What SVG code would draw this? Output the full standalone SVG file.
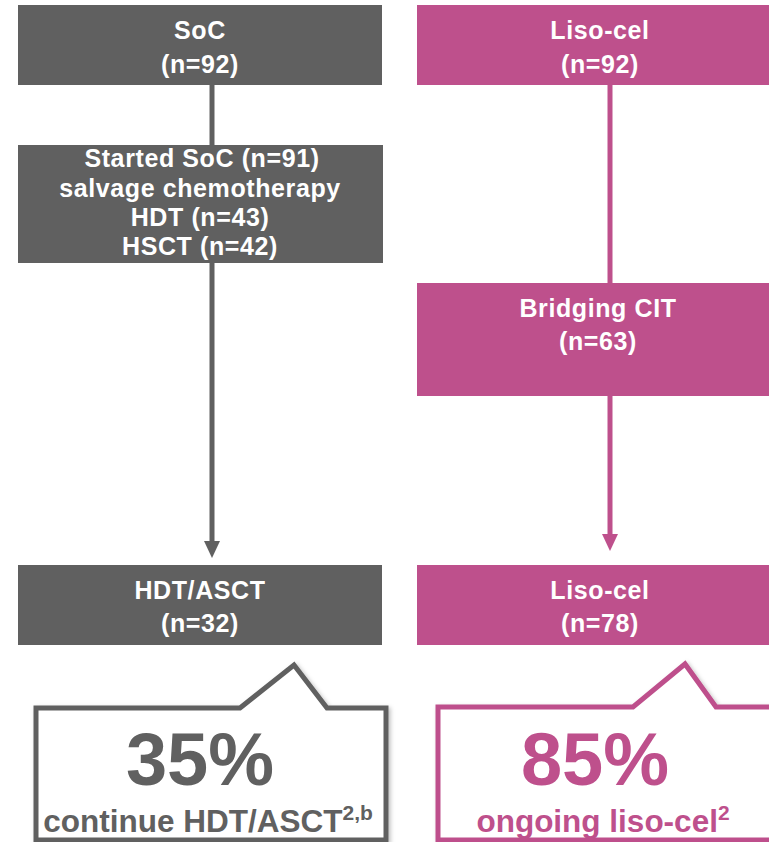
<svg xmlns="http://www.w3.org/2000/svg" width="769" height="842" viewBox="0 0 769 842">
<defs>
<style>
.g{fill:#606060}
.p{fill:#BE508C}
.t{font-family:"Liberation Sans",Arial,sans-serif;font-weight:bold;font-size:25px;letter-spacing:0.6px;fill:#fff;text-anchor:middle}
.big{font-family:"Liberation Sans",Arial,sans-serif;font-weight:bold;font-size:74px;text-anchor:middle}
.sub{font-family:"Liberation Sans",Arial,sans-serif;font-weight:bold;font-size:31.5px;text-anchor:middle}
.lg{stroke:#606060;stroke-width:5;fill:none}
.lp{stroke:#BE508C;stroke-width:5;fill:none}
</style>
<marker id="ag" markerWidth="18" markerHeight="16" refX="0" refY="8" orient="auto" markerUnits="userSpaceOnUse"><path d="M0,0 L17,8 L0,16 Z" fill="#606060"/></marker>
<marker id="ap" markerWidth="18" markerHeight="16" refX="0" refY="8" orient="auto" markerUnits="userSpaceOnUse"><path d="M0,0 L17,8 L0,16 Z" fill="#BE508C"/></marker>
<filter id="sh" x="-10%" y="-10%" width="120%" height="130%"><feDropShadow dx="2" dy="2" stdDeviation="2" flood-color="#000" flood-opacity="0.25"/></filter>
</defs>
<rect width="769" height="842" fill="#fff"/>
<g id="connectors">
<line class="lg" x1="212" y1="85" x2="212" y2="145"/>
<line class="lg" x1="212" y1="263" x2="212" y2="541" marker-end="url(#ag)"/>
<line class="lp" x1="610" y1="85" x2="610" y2="283"/>
<line class="lp" x1="610" y1="396" x2="610" y2="534" marker-end="url(#ap)"/>
</g>
<g id="soc">
<rect class="g" x="18" y="5" width="364" height="80"/>
<text class="t" x="200" y="39">SoC</text>
<text class="t" x="200" y="73">(n=92)</text>
</g>
<g id="liso-top">
<rect class="p" x="417" y="5" width="366" height="80"/>
<text class="t" x="600" y="39">Liso-cel</text>
<text class="t" x="600" y="73">(n=92)</text>
</g>
<g id="started-soc">
<rect class="g" x="18" y="145" width="365" height="118"/>
<text class="t" x="202" y="167">Started SoC (n=91)</text>
<text class="t" x="200" y="197">salvage chemotherapy</text>
<text class="t" x="200" y="226">HDT (n=43)</text>
<text class="t" x="200" y="255">HSCT (n=42)</text>
</g>
<g id="bridging">
<rect class="p" x="417" y="283" width="366" height="113"/>
<text class="t" x="598" y="317">Bridging CIT</text>
<text class="t" x="598" y="350">(n=63)</text>
</g>
<g id="hdt-asct">
<rect class="g" x="18" y="565" width="364" height="80"/>
<text class="t" x="200" y="599">HDT/ASCT</text>
<text class="t" x="200" y="632">(n=32)</text>
</g>
<g id="liso-bottom">
<rect class="p" x="417" y="565" width="366" height="80"/>
<text class="t" x="600" y="599">Liso-cel</text>
<text class="t" x="600" y="632">(n=78)</text>
</g>
<g id="callout-soc">
<path d="M36,840 V708 H240 L294,665 L327,708 H386 V840 Z" fill="#fff" stroke="#606060" stroke-width="5" stroke-linejoin="miter" filter="url(#sh)"/>
<text class="big" x="200" y="785" fill="#606060">35%</text>
<text class="sub" x="208" y="832" fill="#606060">continue HDT/ASCT<tspan font-size="21" dy="-12">2,b</tspan></text>
</g>
<g id="callout-liso">
<path d="M438,840 V707 H633 L685,664 L716,707 H790 V840 Z" fill="#fff" stroke="#BE508C" stroke-width="5" stroke-linejoin="miter" filter="url(#sh)"/>
<text class="big" x="595" y="785" fill="#BE508C">85%</text>
<text class="sub" x="603" y="832" fill="#BE508C">ongoing liso-cel<tspan font-size="21" dy="-12">2</tspan></text>
</g>
</svg>
